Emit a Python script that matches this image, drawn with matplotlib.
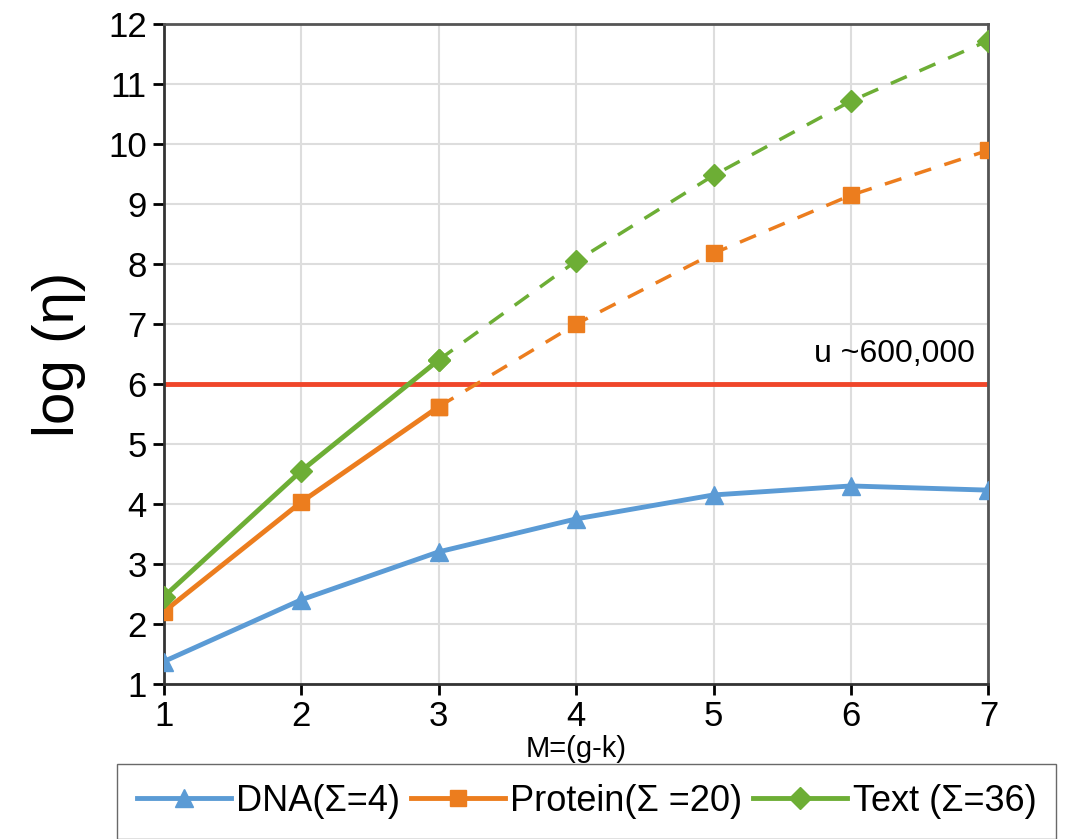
import matplotlib.pyplot as plt

plt.rcParams['font.family'] = ['Liberation Sans', 'DejaVu Sans']

M = [1, 2, 3, 4, 5, 6, 7]
dna = [1.37, 2.4, 3.2, 3.75, 4.15, 4.3, 4.23]
protein = [2.2, 4.03, 5.62, 7.0, 8.18, 9.15, 9.9]
text = [2.45, 4.55, 6.4, 8.05, 9.48, 10.72, 11.73]
u_level = 6

blue = '#5B9BD5'
orange = '#EC7D1E'
green = '#6DAE35'
red = '#F0462A'

fig = plt.figure(figsize=(10.91, 8.39), dpi=100)
ax = fig.add_axes([0.150, 0.185, 0.756, 0.786])

# threshold line
ax.axhline(u_level, color=red, lw=3.5, zorder=2)
ax.text(6.9, u_level + 0.25, 'u ~600,000', ha='right', va='bottom', fontsize=23)

# DNA: solid all the way
ax.plot(M, dna, color=blue, lw=3.5, marker='^', ms=13, zorder=3,
        label='DNA(Σ=4)')

# Protein and Text: solid up to M=3, dashed beyond
ax.plot(M[:3], protein[:3], color=orange, lw=3.5, marker='s', ms=12, zorder=3,
        label='Protein(Σ =20)')
ax.plot(M[2:], protein[2:], color=orange, lw=2.5, ls=(0, (5, 4)), marker='s',
        ms=12, zorder=3)
ax.plot(M[:3], text[:3], color=green, lw=3.5, marker='D', ms=11, zorder=3,
        label='Text (Σ=36)')
ax.plot(M[2:], text[2:], color=green, lw=2.5, ls=(0, (5, 4)), marker='D',
        ms=11, zorder=3)

ax.set_xlim(1, 7)
ax.set_ylim(1, 12)
ax.set_xticks(M)
ax.set_yticks(range(1, 13))
ax.tick_params(labelsize=25, length=8, width=2, direction='out', pad=4)
ax.grid(color='#DDDDDD', lw=1.5, zorder=0)
for s in ax.spines.values():
    s.set_linewidth(2)
    s.set_color('#333333')
for s in ('top', 'right'):
    ax.spines[s].set_color('#555555')

ax.set_xlabel('M=(g-k)', fontsize=21, labelpad=1)
ax.set_ylabel('log (η)', fontsize=42, labelpad=16)

ax.legend(loc='upper center', bbox_to_anchor=(0.513, -0.122), ncol=3,
          fontsize=26, frameon=True, fancybox=False, edgecolor='#444444',
          handlelength=2.6, handletextpad=0.15, columnspacing=0.3,
          borderpad=0.55, borderaxespad=0)

fig.savefig('out.png', dpi=100)
